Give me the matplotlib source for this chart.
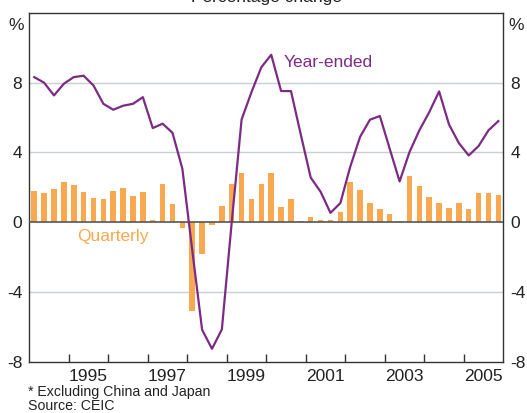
import numpy as np
import matplotlib
matplotlib.use("Agg")
import matplotlib.pyplot as plt

plt.rcParams['font.family'] = ['Liberation Sans', 'DejaVu Sans']

# Quarterly data, 1994Q1 .. 2005Q4
start_year = 1994
quarterly = [1.81, 1.64, 1.92, 2.32, 2.15, 1.75, 1.41, 1.30, 1.81, 1.98, 1.52, 1.70,
             0.10, 2.21, 1.02, -0.34, -5.09, -1.83, -0.17, 0.90, 2.21, 2.84, 1.35, 2.21,
             2.84, 0.84, 1.35, 0.04, 0.27, 0.10, 0.14, 0.60, 2.32, 1.82, 1.07, 0.78,
             0.44, 0.05, 2.66, 2.09, 1.46, 1.12, 0.83, 1.07, 0.77, 1.64, 1.69, 1.58]
year_ended = [8.31, 7.99, 7.26, 7.93, 8.31, 8.39, 7.83, 6.78, 6.44, 6.67, 6.78, 7.16,
              5.39, 5.64, 5.12, 3.06, -1.6, -6.17, -7.26, -6.15, 0.0, 5.88, 7.45, 8.88,
              9.59, 7.51, 7.51, 5.0, 2.55, 1.74, 0.53, 1.09, 3.17, 4.89, 5.87, 6.08,
              4.2, 2.33, 4.01, 5.26, 6.3, 7.49, 5.6, 4.53, 3.82, 4.36, 5.26, 5.79]
year_labels = ['1995', '1997', '1999', '2001', '2003', '2005']
y_ticks = [-8, -4, 0, 4, 8]

n = len(quarterly)
x = start_year + (np.arange(n) + 0.5) / 4.0

bar_color = '#F8A94F'
line_color = '#7D2A84'
text_dark = '#222222'

fig = plt.figure(figsize=(5.27, 4.13), dpi=100)
ax = fig.add_axes([0.0556, 0.1242, 0.8994, 0.845])

ax.set_xlim(1994, 2006)
ax.set_ylim(-8, 12)

for g in [4, 8, -4]:
    ax.axhline(g, color='#C9CED3', lw=1.0, zorder=0)

ax.bar(x, quarterly, width=0.14, color=bar_color, zorder=2)
ax.axhline(0, color='#555555', lw=1.2, zorder=3)
ax.plot(x, year_ended, color=line_color, lw=1.6, zorder=4)

for s in ax.spines.values():
    s.set_color('#333333')
    s.set_linewidth(1.0)

# y ticks both sides
ax.set_yticks(y_ticks)
ax.set_yticklabels([str(v) for v in y_ticks])
ax.tick_params(axis='y', which='both', length=0, labelsize=12.5, colors=text_dark,
               left=True, right=True, labelleft=True, labelright=True, pad=5)

# x ticks: majors at year boundaries, labels at mid-year
ax.set_xticks(np.arange(1995, 2006))
ax.set_xticklabels([])
ax.tick_params(axis='x', which='major', direction='in', length=6, color='#333333', width=1)
ax.set_xticks([int(l) + 0.5 for l in year_labels], minor=True)
ax.set_xticklabels(year_labels, minor=True)
ax.tick_params(axis='x', which='minor', length=0, labelsize=12.5, colors=text_dark, pad=5)

# "%" labels
ax.text(-0.012, 0.985, '%', transform=ax.transAxes, ha='right', va='top',
        fontsize=12.5, color=text_dark)
ax.text(1.010, 0.985, '%', transform=ax.transAxes, ha='left', va='top',
        fontsize=12.5, color=text_dark)

ax.text(2000.45, 9.15, 'Year-ended', color=line_color, fontsize=12.5, ha='left', va='center')
ax.text(1995.2, -0.85, 'Quarterly', color=bar_color, fontsize=12.5, ha='left', va='center')

fig.text(0.505, 0.994, 'Percentage change', ha='center', va='baseline',
         fontsize=12.5, color=text_dark)
fig.text(0.054, 0.052, '* Excluding China and Japan', ha='left', va='center',
         fontsize=10.2, color=text_dark)
fig.text(0.054, 0.017, 'Source: CEIC', ha='left', va='center',
         fontsize=10.2, color=text_dark)

fig.savefig('out.png', dpi=100)
